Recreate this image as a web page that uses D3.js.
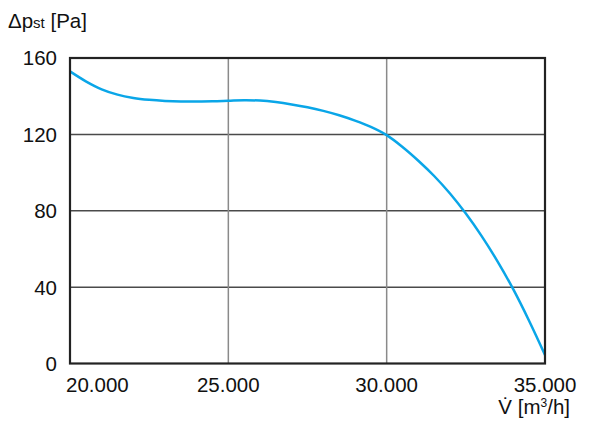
<!DOCTYPE html>
<html>
<head>
<meta charset="utf-8">
<script src="https://d3js.org/d3.v7.min.js"></script>
<style>
  body { margin: 0; background: #fff; }
  text { font-family: "Liberation Sans", Arial, sans-serif; fill: #111; }
</style>
</head>
<body>
<svg width="600" height="424" id="chart"></svg>
<script>
// airflow (m³/h) and static pressure (Pa)
const flow = [20000, 20500, 21000, 21500, 22000, 22500, 23000, 23500, 24000, 24500,
              25000, 25500, 26000, 26500, 27000, 27500, 28000, 28500, 29000, 29500,
              30000, 30500, 31000, 31500, 32000, 32500, 33000, 33500, 34000, 34500, 35000];
const pressure = [153, 147.8, 143.6, 140.8, 139.1, 138.1, 137.5, 137.2, 137.2, 137.3,
                  137.6, 137.9, 137.7, 136.9, 135.7, 134.2, 132.3, 130, 127.2, 123.9,
                  119.6, 113.4, 106.2, 98.2, 89, 78.5, 66.7, 53.5, 38.8, 22.3, 4.5];
const xTicks = [20000, 25000, 30000, 35000];
const xTickLabels = ["20.000", "25.000", "30.000", "35.000"];
const yTicks = [0, 40, 80, 120, 160];

const svg = d3.select("#chart");
const margin = {top: 58, right: 55, bottom: 60.5, left: 70},
  width = +svg.attr("width") - margin.left - margin.right,
  height = +svg.attr("height") - margin.top - margin.bottom,
  g = svg.append("g").attr("transform", "translate(" + margin.left + "," + margin.top + ")");

const x = d3.scaleLinear().domain([20000, 35000]).range([0, width]);
const y = d3.scaleLinear().domain([0, 160]).range([height, 0]);

// grid
g.selectAll(".hgrid")
  .data(yTicks.slice(1, -1))
  .enter().append("line")
  .attr("x1", 0).attr("x2", width)
  .attr("y1", d => y(d)).attr("y2", d => y(d))
  .attr("stroke", "#4a4a4a").attr("stroke-width", 1.5);

g.selectAll(".vgrid")
  .data(xTicks.slice(1, -1))
  .enter().append("line")
  .attr("x1", d => x(d)).attr("x2", d => x(d))
  .attr("y1", 0).attr("y2", height)
  .attr("stroke", "#8a8a8a").attr("stroke-width", 1.5);

// curve
const line = d3.line()
  .x((d, i) => x(flow[i]))
  .y(d => y(d))
  .curve(d3.curveCatmullRom.alpha(0.5));

g.append("path")
  .attr("d", line(pressure))
  .attr("fill", "none")
  .attr("stroke", "#0aa6e8")
  .attr("stroke-width", 2.5);

// frame
g.append("rect")
  .attr("width", width).attr("height", height)
  .attr("fill", "none")
  .attr("stroke", "#222").attr("stroke-width", 2.2);

// y tick labels
g.selectAll(".ylab")
  .data(yTicks)
  .enter().append("text")
  .attr("x", -13)
  .attr("y", d => y(d))
  .attr("dy", "0.36em")
  .attr("text-anchor", "end")
  .style("font-size", "20.5px")
  .text(d => d);

// x tick labels
g.selectAll(".xlab")
  .data(xTicks)
  .enter().append("text")
  .attr("x", (d, i) => i === 0 ? x(d) - 4 : x(d))
  .attr("y", height + 28.5)
  .attr("text-anchor", (d, i) => i === 0 ? "start" : "middle")
  .style("font-size", "20.5px")
  .text((d, i) => xTickLabels[i]);

// axis titles
const yt = svg.append("text")
  .attr("x", 8).attr("y", 27.5)
  .style("font-size", "20.5px");
yt.append("tspan").text("Δp");
yt.append("tspan").style("font-size", "15px").text("st");
yt.append("tspan").text(" [Pa]");

const xt = svg.append("text")
  .attr("x", 570).attr("y", 414)
  .attr("text-anchor", "end")
  .style("font-size", "20.5px");
xt.append("tspan").text("V\u0307 [m");
xt.append("tspan").attr("dy", -7).style("font-size", "12px").text("3");
xt.append("tspan").attr("dy", 7).text("/h]");
</script>
</body>
</html>
